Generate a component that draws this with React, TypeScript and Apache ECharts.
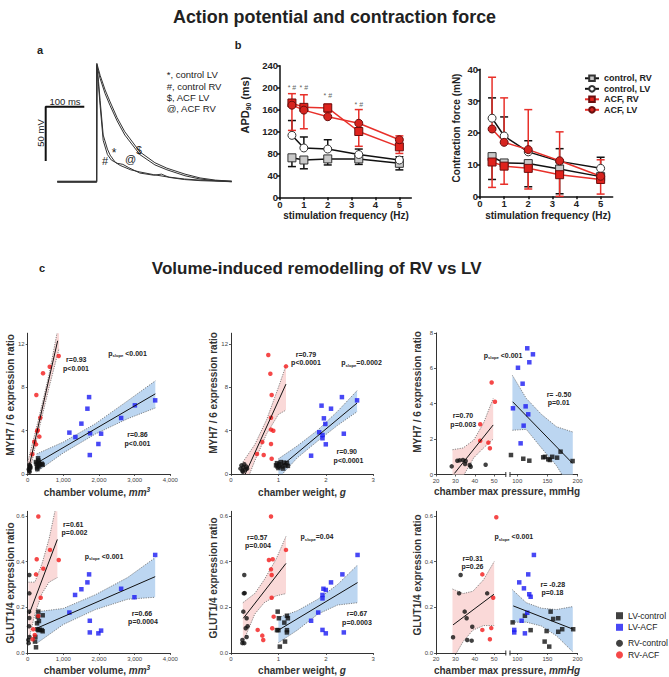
import React, { useEffect, useRef } from "react";
import * as echarts from "echarts";

const FONT = "'Liberation Sans', Arial, Helvetica, sans-serif";

// ---------- Panel a: action potentials (time ms, potential mV) ----------
const apAcfLV = [[30,-80],[132,-80],[132.5,29],[141,18],[154,4.5],[167,-6.5],[185,-21],[205,-34],[244,-52.5],[283,-62.5],[314,-67.5],[361,-73],[400,-76.5],[440,-78.5],[482,-79.5]];
const apAcfRV = [[30,-80.5],[132,-80.5],[132.5,27],[141,15],[154,1],[167,-10],[185,-24],[205,-37],[244,-55],[283,-64.5],[314,-69],[361,-74.5],[400,-77.5],[440,-79],[482,-80]];
const apCtrlLV = [[30,-79.5],[132,-79.5],[132.5,28],[137,12],[141,-5],[149,-37],[160,-50],[167,-55.5],[180,-62],[193,-65],[220,-69],[244,-71],[280,-73.5],[314,-75.5],[360,-77.5],[400,-78.5],[482,-79.5]];
const apCtrlRV = [[30,-80],[132,-80],[132.5,26],[137,8],[141,-10],[149,-42],[160,-55],[170,-60],[185,-63],[200,-64],[215,-67],[244,-72],[280,-74],[300,-73],[320,-76],[360,-78],[400,-79],[482,-80]];
const scaleBar = [[100,-11],[0,-11],[0,-61]];

// ---------- Panel b ----------
const freqHz = [0.5, 1, 2, 3.3, 5];
const freqTicks = [0, 1, 2, 3, 4, 5];
const apdTicks = [0, 40, 80, 120, 160, 200, 240];
const forceTicks = [0, 10, 20, 30, 40];

const apdCtrlRV = [72, 68, 70, 70, 62];
const apdCtrlRVErr = [56, 52, 59, 60, 50];
const apdCtrlLV = [113, 90, 88, 78, 68];
const apdCtrlLVErr = [140, 110, 105, 88, 74];
const apdAcfRV = [172, 164, 163, 120, 92];
const apdAcfRVErr = [122, 125, 155, 93, 80];
const apdAcfLV = [168, 159, 147, 135, 105];
const apdAcfLVErr = [189, 187, 170, 160, 112];
const apdSigMarks = [[0.5, 201], [1, 201], [2, 185], [3.3, 170]];

const forceCtrlRV = [12.5, 10.5, 10.3, 8.6, 6.2];
const forceCtrlRVErr = [5.3, 10.5, 3.0, 0.8, 6.2];
const forceCtrlLV = [24.6, 19, 14, 11, 8.8];
const forceCtrlLVErr = [31, 25, 17.5, 15, 12.3];
const forceAcfRV = [10.8, 9.5, 8.8, 6.8, 5.3];
const forceAcfRVErr = [2.8, 3.8, 2.3, 0, 0.7];
const forceAcfLV = [21.2, 17, 14.7, 11.2, 6.3];
const forceAcfLVErr = [37.5, 31, 27.3, 20.3, 11.5];

// ---------- Panel c ticks ----------
const volTicks = [0, 1000, 2000, 3000, 4000];
const wTicks = [0, 1, 2, 3];
const pLeftTicks = [20, 30, 40, 50];
const pRightTicks = [100, 150, 200];
const myhTicks = [0, 4, 8, 12];
const myhPTicks = [0, 2, 4, 6, 8];
const glutTicks = [0, 0.2, 0.4, 0.6];

// c1: chamber volume vs MYH7/6
const c1LvCtrl = [[230,1.1],[250,0.95],[262,0.6],[280,0.8],[290,1.45],[300,1.25],[320,0.7],[345,0.9],[395,0.95],[420,0.85],[270,0.45],[310,1.05]];
const c1LvAcf = [[1169,3.82],[1338,3.41],[1506,4.65],[1675,6.03],[1722,7.1],[1750,3.76],[2059,3.72],[2621,5.17],[3006,6.34],[3576,6.8],[1742,1.75],[1983,2.77]];
const c1RvCtrl = [[30,0.45],[40,0.3],[45,0.85],[50,0.6],[55,0.2],[62,0.75],[70,0.5],[80,0.65]];
const c1RvAcf = [[242,7.3],[430,9.3],[618,9.9],[870,10.9],[354,5.2],[281,4.05],[265,3.95],[327,3.45],[186,2.98],[233,2.74],[130,1.82]];
const c1RvLine = [[17,0.37],[840,12.3]];
const c1RvBand = [[0,-0.7,1.1],[300,3.9,5.0],[600,8.0,9.2],[880,11.6,14.0]];
const c1LvLine = [[250,1.0],[3580,7.4]];
const c1LvBand = [[250,0.2,1.85],[1000,1.95,2.95],[1900,3.7,4.65],[2800,5.1,6.75],[3580,6.1,8.6]];

// c2: chamber weight vs MYH7/6
const c2LvCtrl = [[0.95,0.8],[0.97,1.0],[1.0,0.55],[1.02,0.9],[1.05,1.1],[1.08,0.7],[1.12,1.05],[1.15,0.8],[1.18,1.0],[1.2,0.75],[1.1,0.5],[0.98,0.7]];
const c2LvAcf = [[1.91,6.31],[2.11,6.03],[2.34,7.1],[2.66,6.8],[1.96,5.14],[1.99,4.62],[2.38,3.72],[1.86,3.85],[1.93,3.6],[1.93,3.3],[2.0,2.74],[1.69,1.69]];
const c2RvCtrl = [[0.2,0.5],[0.22,0.8],[0.24,0.3],[0.26,0.6],[0.28,0.9],[0.3,0.4],[0.32,0.7],[0.25,0.2],[0.34,0.5]];
const c2RvAcf = [[0.787,10.99],[0.83,9.26],[0.858,7.29],[0.844,5.2],[0.844,4.1],[0.893,4.0],[1.16,9.94],[0.66,2.95],[0.844,2.77],[0.549,1.85],[0.69,1.75],[0.858,1.41]];
const c2RvLine = [[0.3,0.0],[1.16,8.3]];
const c2RvBand = [[0.25,-1.6,1.1],[0.5,1.2,2.7],[0.75,3.7,5.0],[1.0,5.5,8.0],[1.16,5.9,10.0]];
const c2LvLine = [[1.0,0.5],[2.66,6.55]];
const c2LvBand = [[1.0,-0.4,1.4],[1.4,1.5,2.6],[1.83,3.05,4.05],[2.25,4.5,5.8],[2.66,5.75,7.7]];

// c3: chamber max pressure vs MYH7/6
const c3LvCtrl = [[89.6,1.1],[110,0.89],[120,0.78],[143,0.97],[145.9,1.0],[151.4,0.86],[154,0.82],[157.9,1.0],[166,0.95],[171.8,1.29],[191.7,0.76]];
const c3LvAcf = [[116.6,7.13],[126,6.79],[120,6.34],[101.2,6.03],[108.9,5.13],[92.9,3.74],[113.9,3.85],[118.2,3.4],[110.6,2.76],[105.6,1.76]];
const c3RvCtrl = [[28.1,0.46],[31,0.78],[32.2,0.8],[33.9,0.82],[35.3,0.76],[35,0.59],[37.4,0.54],[37.9,0.44],[45.6,0.55]];
const c3RvAcf = [[48.7,5.2],[50.4,4.11],[42.8,2.84],[42.8,1.91],[47,1.8],[47.8,1.48]];
const c3RvLine = [[29.5,0.06],[49.5,2.8]];
const c3RvBand = [[28.5,-1.4,1.4],[34,-0.1,1.5],[39.5,0.95,1.95],[44.5,1.5,2.9],[49.5,2.0,4.3]];
const c3LvLine = [[92.4,4.11],[191.7,0.63]];
const c3LvBand = [[92,2.5,5.6],[115,2.55,4.3],[140,1.5,3.4],[165,0.5,2.7],[192,-1.0,2.4]];

// c4: chamber volume vs GLUT1/4
const c4LvCtrl = [[298,0.181],[280,0.159],[262,0.13],[315,0.14],[420,0.165],[270,0.104],[298,0.1],[340,0.102],[393,0.1],[420,0.095],[214,0.07],[205,0.05],[233,0.025]];
const c4LvAcf = [[1169,0.177],[1329,0.254],[1506,0.279],[1675,0.309],[1722,0.344],[1742,0.141],[1742,0.09],[1983,0.086],[2059,0.098],[2621,0.281],[2994,0.244],[3576,0.429]];
const c4RvCtrl = [[46,0.341],[46,0.261],[40,0.181],[46,0.153],[38,0.117],[17,0.057],[25,0.043],[50,0.07]];
const c4RvAcf = [[298,0.597],[253,0.41],[233,0.344],[438,0.369],[626,0.451],[871,0.407],[365,0.242],[298,0.162],[157,0.104],[197,0.079],[140,0.06]];
const c4RvLine = [[40,0.17],[832,0.497]];
const c4RvBand = [[20,0.05,0.31],[200,0.17,0.31],[400,0.26,0.39],[600,0.31,0.5],[832,0.33,0.67]];
const c4LvLine = [[250,0.108],[3576,0.334]];
const c4LvBand = [[250,0.042,0.18],[1000,0.125,0.195],[1900,0.19,0.255],[2800,0.235,0.33],[3576,0.244,0.417]];

// c5: chamber weight vs GLUT1/4
const c5LvCtrl = [[0.985,0.181],[1.01,0.152],[1.0,0.1],[0.97,0.1],[1.125,0.133],[1.18,0.163],[1.2,0.152],[1.18,0.1],[1.18,0.09],[1.14,0.05],[1.03,0.028]];
const c5LvAcf = [[1.69,0.141],[1.84,0.177],[1.93,0.239],[1.93,0.254],[1.95,0.281],[2.0,0.276],[2.11,0.309],[2.35,0.344],[2.67,0.429],[1.93,0.101],[2.0,0.086],[2.38,0.09]];
const c5RvCtrl = [[0.28,0.341],[0.27,0.261],[0.29,0.262],[0.26,0.181],[0.33,0.152],[0.31,0.108],[0.35,0.117],[0.24,0.057],[0.28,0.043],[0.24,0.043],[0.33,0.07]];
const c5RvAcf = [[0.844,0.597],[0.8,0.407],[0.88,0.41],[0.844,0.366],[0.858,0.341],[1.16,0.451],[0.858,0.242],[0.9,0.159],[0.563,0.101],[0.66,0.076],[0.68,0.057],[0.87,0.108]];
const c5RvLine = [[0.26,0.152],[1.16,0.392]];
const c5RvBand = [[0.25,0.045,0.22],[0.5,0.17,0.26],[0.7,0.22,0.32],[0.95,0.25,0.41],[1.16,0.26,0.51]];
const c5LvLine = [[1.0,0.1],[2.67,0.308]];
const c5LvBand = [[1.0,0.045,0.155],[1.4,0.1,0.185],[1.83,0.17,0.235],[2.25,0.21,0.3],[2.67,0.22,0.385]];

// c6: chamber max pressure vs GLUT1/4
const c6LvCtrl = [[92.4,0.134],[112.7,0.163],[122.2,0.1],[148.7,0.096],[155.3,0.181],[159.6,0.149],[167.9,0.152],[167.9,0.093],[174.5,0.104],[192.7,0.104],[145.4,0.05],[153,0.028]];
const c6LvAcf = [[127.6,0.429],[118.2,0.344],[103.3,0.309],[111.1,0.283],[119.9,0.257],[122.2,0.246],[116.6,0.176],[107.3,0.141],[95,0.101],[95,0.09],[112.7,0.086]];
const c6RvCtrl = [[32.7,0.341],[31.9,0.261],[46.4,0.261],[34.8,0.181],[35.8,0.152],[38.7,0.115],[28.8,0.069],[36.1,0.057],[38.4,0.054]];
const c6RvAcf = [[51.1,0.594],[43.9,0.344],[49.5,0.242],[43.9,0.101],[48.5,0.109],[47.8,0.06]];
const c6RvLine = [[28.8,0.123],[49.9,0.257]];
const c6RvBand = [[28.5,-0.03,0.28],[34,0.05,0.26],[39,0.1,0.27],[44.5,0.12,0.32],[50,0.12,0.4]];
const c6LvLine = [[93.4,0.206],[192.7,0.104]];
const c6LvBand = [[92,0.135,0.277],[115,0.135,0.22],[140,0.118,0.196],[165,0.075,0.19],[192,0.005,0.203]];

// ---------- helpers ----------
const RED = "#f21a1a";
const BLUE = "#1a1af2";
const BLACK = "#111111";
const PINK_BAND = "#fad9d8";
const BLUE_BAND = "#bcd6f1";
const STAT = 7;

function cAxis(gridIndex: number, min: number, max: number, ticks: number[] | null, fmt?: any) {
  const show = !!ticks;
  return {
    type: "value", gridIndex, min, max,
    splitLine: { show: false },
    axisLine: { show, onZero: false, lineStyle: { color: "#333", width: 1 } },
    axisTick: { show, length: 2, customValues: ticks || [], lineStyle: { color: "#333", width: 0.8 } },
    axisLabel: { show, customValues: ticks || [], fontSize: 6, color: "#444", margin: 3, fontFamily: FONT, formatter: fmt },
  };
}
function bAxis(gridIndex: number, min: number, max: number, ticks: number[]) {
  return {
    type: "value", gridIndex, min, max,
    splitLine: { show: false },
    axisLine: { show: true, onZero: false, lineStyle: { color: "#111", width: 1.5 } },
    axisTick: { show: true, length: 3, customValues: ticks, lineStyle: { color: "#111", width: 1.5 } },
    axisLabel: { customValues: ticks, fontSize: 9.5, fontWeight: "bold", color: "#222", margin: 2, fontFamily: FONT },
  };
}
function pts(name: string, data: number[][], xi: number, yi: number, symbol: string, color: string) {
  return { type: "scatter", name, data, xAxisIndex: xi, yAxisIndex: yi, symbol, symbolSize: 4.5, itemStyle: { color }, z: 3, silent: true };
}
function regLine(data: number[][], xi: number, yi: number) {
  return { type: "line", data, xAxisIndex: xi, yAxisIndex: yi, symbol: "none", lineStyle: { color: "#111", width: 1 }, z: 4, silent: true };
}
function band(b: number[][], xi: number, yi: number, fill: string) {
  const mid = b[Math.floor(b.length / 2)];
  return {
    type: "custom", xAxisIndex: xi, yAxisIndex: yi, clip: true, silent: true, z: 1,
    data: [[mid[0], (mid[1] + mid[2]) / 2]],
    renderItem: (_p: any, api: any) => {
      const up = b.map((d) => api.coord([d[0], d[2]]));
      const lo = b.map((d) => api.coord([d[0], d[1]]));
      const poly = up.concat(lo.slice().reverse());
      const dash = { stroke: "#666", lineWidth: 0.8, lineDash: [1.2, 1.2], fill: null };
      return {
        type: "group",
        children: [
          { type: "polygon", shape: { points: poly }, style: { fill } },
          { type: "polyline", shape: { points: up }, style: dash },
          { type: "polyline", shape: { points: lo }, style: dash },
        ],
      };
    },
  };
}
function bLine(name: string, mean: number[], xi: number, symbol: string, fill: string, border: string, line: string) {
  return {
    type: "line", name, xAxisIndex: xi, yAxisIndex: xi, data: freqHz.map((f, i) => [f, mean[i]]),
    symbol, symbolSize: 8, itemStyle: { color: fill, borderColor: border, borderWidth: 1 },
    lineStyle: { color: line, width: 1.5 }, z: 3, silent: true,
  };
}
function errBars(mean: number[], end: number[], xi: number, color: string) {
  return {
    type: "custom", xAxisIndex: xi, yAxisIndex: xi, silent: true, z: 2,
    data: freqHz.map((f, i) => [f, mean[i], end[i]]),
    renderItem: (_p: any, api: any) => {
      const x = api.value(0);
      const p1 = api.coord([x, api.value(1)]);
      const p2 = api.coord([x, api.value(2)]);
      const st = { stroke: color, lineWidth: 1.5 };
      return {
        type: "group",
        children: [
          { type: "line", shape: { x1: p1[0], y1: p1[1], x2: p2[0], y2: p2[1] }, style: st },
          { type: "line", shape: { x1: p2[0] - 4, y1: p2[1], x2: p2[0] + 4, y2: p2[1] }, style: st },
        ],
      };
    },
  };
}
function txt(x: number, y: number, text: string, size: number, o: any = {}) {
  const align = o.align || "center";
  return {
    type: "text", x, y, rotation: o.rot || 0, silent: true, z: 10,
    style: {
      text, fill: o.color || "#222", fontSize: size, fontWeight: o.weight || "bold", fontFamily: FONT,
      fontStyle: o.italic ? "italic" : "normal",
      textAlign: align, textVerticalAlign: "middle", align, verticalAlign: "middle", rich: o.rich,
    },
  };
}
function richStyles(size: number, color = "#222") {
  return {
    n: { fontSize: size, fontWeight: "bold", fontFamily: FONT, fill: color, color, lineHeight: size + 2 },
    i: { fontSize: size, fontWeight: "bold", fontStyle: "italic", fontFamily: FONT, fill: color, color, lineHeight: size + 2 },
    sub: { fontSize: size * 0.6, fontWeight: "bold", fontFamily: FONT, fill: color, color, verticalAlign: "bottom", lineHeight: size * 0.6 },
    sup: { fontSize: size * 0.65, fontWeight: "bold", fontStyle: "italic", fontFamily: FONT, fill: color, color, verticalAlign: "top", lineHeight: size * 0.65 },
  };
}
const stat = (x: number, y: number, text: string) => txt(x, y, text, STAT);
const pslope = (x: number, y: number, rest: string) => txt(x, y, "{n|p}{sub|slope}{n|" + rest + "}", STAT, { rich: richStyles(STAT) });

function buildOption() {
  const grid = [
    { left: 45.7, top: 60.1, width: 189.1, height: 132.5 },
    { left: 280, top: 65.7, width: 131.3, height: 131.6 },
    { left: 480, top: 69.3, width: 132.7, height: 127 },
    { left: 27.7, top: 333.2, width: 142.6, height: 140.8 },
    { left: 231, top: 333.2, width: 142.2, height: 140.8 },
    { left: 436, top: 332.9, width: 69.8, height: 141.6 },
    { left: 510, top: 332.9, width: 67.6, height: 141.6 },
    { left: 27.7, top: 511.3, width: 142.6, height: 141.7 },
    { left: 231, top: 511.3, width: 142.2, height: 141.7 },
    { left: 436, top: 511.3, width: 69.8, height: 141.7 },
    { left: 510, top: 511.3, width: 67.6, height: 141.7 },
  ];
  const g1 = (v: number) => v.toFixed(1);
  const xAxis = [
    { type: "value", gridIndex: 0, min: 0, max: 490, show: false },
    bAxis(1, 0, 5.5, freqTicks),
    bAxis(2, 0, 5.5, freqTicks),
    cAxis(3, 0, 4000, volTicks),
    cAxis(4, 0, 3, wTicks),
    cAxis(5, 20, 56, pLeftTicks),
    cAxis(6, 88, 200, pRightTicks),
    cAxis(7, 0, 4000, volTicks),
    cAxis(8, 0, 3, wTicks),
    cAxis(9, 20, 56, pLeftTicks),
    cAxis(10, 88, 200, pRightTicks),
  ];
  const yAxis = [
    { type: "value", gridIndex: 0, min: -90, max: 32, show: false },
    bAxis(1, 0, 240, apdTicks),
    bAxis(2, 0, 40, forceTicks),
    cAxis(3, 0, 13, myhTicks),
    cAxis(4, 0, 13, myhTicks),
    cAxis(5, 0, 8, myhPTicks),
    cAxis(6, 0, 8, null),
    cAxis(7, 0, 0.62, glutTicks, g1),
    cAxis(8, 0, 0.62, glutTicks, g1),
    cAxis(9, 0, 0.62, glutTicks, g1),
    cAxis(10, 0, 0.62, null),
  ];

  const trace = (data: number[][]) => ({ type: "line", xAxisIndex: 0, yAxisIndex: 0, data, symbol: "none", lineStyle: { color: "#333", width: 1 }, silent: true });

  const series: any[] = [
    trace(apAcfLV), trace(apAcfRV), trace(apCtrlLV), trace(apCtrlRV),
    { type: "line", xAxisIndex: 0, yAxisIndex: 0, data: scaleBar, symbol: "none", lineStyle: { color: "#111", width: 2 }, silent: true },
    // panel b left
    errBars(apdCtrlRV, apdCtrlRVErr, 1, "#111"),
    errBars(apdCtrlLV, apdCtrlLVErr, 1, "#111"),
    errBars(apdAcfRV, apdAcfRVErr, 1, "#e8302a"),
    errBars(apdAcfLV, apdAcfLVErr, 1, "#e8302a"),
    bLine("control, RV", apdCtrlRV, 1, "rect", "#c9c9c9", "#333", "#111"),
    bLine("control, LV", apdCtrlLV, 1, "circle", "#ffffff", "#333", "#111"),
    bLine("ACF, RV", apdAcfRV, 1, "rect", "#e0221c", "#6a0f0f", "#e8302a"),
    bLine("ACF, LV", apdAcfLV, 1, "circle", "#d6241f", "#6a0f0f", "#e8302a"),
    {
      type: "scatter", xAxisIndex: 1, yAxisIndex: 1, data: apdSigMarks, symbolSize: 1, itemStyle: { color: "rgba(0,0,0,0)" }, silent: true,
      label: { show: true, position: "inside", formatter: "* #", fontSize: 7, color: "#333", fontFamily: FONT },
    },
    // panel b right
    errBars(forceCtrlRV, forceCtrlRVErr, 2, "#111"),
    errBars(forceCtrlLV, forceCtrlLVErr, 2, "#111"),
    errBars(forceAcfRV, forceAcfRVErr, 2, "#e8302a"),
    errBars(forceAcfLV, forceAcfLVErr, 2, "#e8302a"),
    bLine("control, RV", forceCtrlRV, 2, "rect", "#c9c9c9", "#333", "#111"),
    bLine("control, LV", forceCtrlLV, 2, "circle", "#ffffff", "#333", "#111"),
    bLine("ACF, RV", forceAcfRV, 2, "rect", "#e0221c", "#6a0f0f", "#e8302a"),
    bLine("ACF, LV", forceAcfLV, 2, "circle", "#d6241f", "#6a0f0f", "#e8302a"),
  ];

  const plot = (lvC: number[][], lvA: number[][], rvC: number[][], rvA: number[][], rvLine: number[][], rvBand: number[][], lvLine: number[][], lvBand: number[][], rvG: number, lvG: number) => {
    series.push(
      band(rvBand, rvG, rvG, PINK_BAND),
      band(lvBand, lvG, lvG, BLUE_BAND),
      pts("LV-control", lvC, lvG, lvG, "rect", BLACK),
      pts("LV-ACF", lvA, lvG, lvG, "rect", BLUE),
      pts("RV-control", rvC, rvG, rvG, "circle", BLACK),
      pts("RV-ACF", rvA, rvG, rvG, "circle", RED),
      regLine(rvLine, rvG, rvG),
      regLine(lvLine, lvG, lvG),
    );
  };
  plot(c1LvCtrl, c1LvAcf, c1RvCtrl, c1RvAcf, c1RvLine, c1RvBand, c1LvLine, c1LvBand, 3, 3);
  plot(c2LvCtrl, c2LvAcf, c2RvCtrl, c2RvAcf, c2RvLine, c2RvBand, c2LvLine, c2LvBand, 4, 4);
  plot(c3LvCtrl, c3LvAcf, c3RvCtrl, c3RvAcf, c3RvLine, c3RvBand, c3LvLine, c3LvBand, 5, 6);
  plot(c4LvCtrl, c4LvAcf, c4RvCtrl, c4RvAcf, c4RvLine, c4RvBand, c4LvLine, c4LvBand, 7, 7);
  plot(c5LvCtrl, c5LvAcf, c5RvCtrl, c5RvAcf, c5RvLine, c5RvBand, c5LvLine, c5LvBand, 8, 8);
  plot(c6LvCtrl, c6LvAcf, c6RvCtrl, c6RvAcf, c6RvLine, c6RvBand, c6LvLine, c6LvBand, 9, 10);

  const R = Math.PI / 2;
  const r10 = richStyles(10, "#333");
  const graphic: any[] = [
    txt(334.5, 17, "Action potential and contraction force", 17.9),
    txt(316.7, 268.3, "Volume-induced remodelling of RV vs LV", 17),
    txt(40, 50, "a", 11),
    txt(238, 45, "b", 11),
    txt(42, 268, "c", 11),
    // panel a
    txt(65, 101, "100 ms", 9.5, { weight: "normal" }),
    txt(40, 133, "50 mV", 9.5, { weight: "normal", rot: R }),
    txt(166.7, 74, "*, control LV", 9.5, { weight: "normal", align: "left" }),
    txt(166.7, 86, "#, control RV", 9.5, { weight: "normal", align: "left" }),
    txt(166.7, 97.7, "$, ACF LV", 9.5, { weight: "normal", align: "left" }),
    txt(166.7, 108.3, "@, ACF RV", 9.5, { weight: "normal", align: "left" }),
    txt(105, 161, "#", 11, { weight: "normal" }),
    txt(114, 153, "*", 12, { weight: "normal" }),
    txt(130.7, 159, "@", 11, { weight: "normal" }),
    txt(139, 150, "$", 10, { weight: "normal" }),
    // panel b
    txt(245, 105, "{n|APD}{sub|90}{n| (ms)}", 11, { rot: R, rich: richStyles(11) }),
    txt(456.7, 128, "Contraction force (mN)", 10, { rot: R }),
    txt(346, 215.5, "stimulation frequency (Hz)", 10),
    txt(548, 215.5, "stimulation frequency (Hz)", 10),
    // panel c axis titles
    txt(10, 395, "MYH7 / 6 expression ratio", 10, { rot: R, color: "#333" }),
    txt(213, 393, "MYH7 / 6 expression ratio", 10, { rot: R, color: "#333" }),
    txt(417, 392, "MYH7 / 6 expression ratio", 10, { rot: R, color: "#333" }),
    txt(10, 583, "GLUT1/4 expression ratio", 10, { rot: R, color: "#333" }),
    txt(213, 578, "GLUT1/4 expression ratio", 10, { rot: R, color: "#333" }),
    txt(417, 575, "GLUT1/4 expression ratio", 10, { rot: R, color: "#333" }),
    txt(97, 492, "{n|chamber volume, }{i|mm}{sup|3}", 10, { rich: richStyles(10, "#333") }),
    txt(302, 492, "{n|chamber weight, }{i|g}", 10, { rich: richStyles(10, "#333") }),
    txt(507, 491, "chamber max pressure, mmHg", 10, { color: "#333" }),
    txt(97, 670, "{n|chamber volume, }{i|mm}{sup|3}", 10, { rich: richStyles(10, "#333") }),
    txt(302, 670, "{n|chamber weight, }{i|g}", 10, { rich: richStyles(10, "#333") }),
    txt(507, 670, "{n|chamber max pressure, }{i|mmHg}", 10, { rich: r10 }),
    // c1
    stat(76.3, 359.5, "r=0.93"), stat(76, 368.7, "p<0.001"),
    pslope(127.5, 353.3, " <0.001"),
    stat(137.5, 434, "r=0.86"), stat(137.5, 443.3, "p<0.001"),
    // c2
    stat(306, 354, "r=0.79"), stat(306, 362.5, "p<0.0001"),
    pslope(361.5, 362.7, "=0.0002"),
    stat(346.7, 451.5, "r=0.90"), stat(348.5, 460, "p<0.0001"),
    // c3
    pslope(503, 355, " <0.001"),
    stat(463, 415.8, "r=0.70"), stat(463.3, 424.3, "p=0.003"),
    stat(559, 394, "r= -0.50"), stat(558.7, 402.3, "p=0.01"),
    // c4
    stat(73.3, 524, "r=0.61"), stat(74.5, 532.3, "p=0.002"),
    pslope(104, 556, " <0.001"),
    stat(142, 613.3, "r=0.66"), stat(143, 621.7, "p=0.0004"),
    // c5
    stat(257.3, 537, "r=0.57"), stat(258, 545.3, "p=0.004"),
    pslope(317, 536.7, "=0.04"),
    stat(357, 613.3, "r=0.67"), stat(357, 622, "p=0.0003"),
    // c6
    pslope(513.8, 536.7, " <0.001"),
    stat(472.7, 558, "r=0.31"), stat(472.5, 566.3, "p=0.26"),
    stat(552.8, 584, "r= -0.28"), stat(552.5, 592.3, "p=0.18"),
    // axis break marks
    { type: "line", shape: { x1: 505.8, y1: 472, x2: 505.8, y2: 477 }, style: { stroke: "#333", lineWidth: 1 }, silent: true },
    { type: "line", shape: { x1: 510, y1: 472, x2: 510, y2: 477 }, style: { stroke: "#333", lineWidth: 1 }, silent: true },
    { type: "line", shape: { x1: 505.8, y1: 650.5, x2: 505.8, y2: 655.5 }, style: { stroke: "#333", lineWidth: 1 }, silent: true },
    { type: "line", shape: { x1: 510, y1: 650.5, x2: 510, y2: 655.5 }, style: { stroke: "#333", lineWidth: 1 }, silent: true },
  ];

  const legend = [
    {
      data: ["control, RV", "control, LV", "ACF, RV", "ACF, LV"], orient: "vertical", left: 579, top: 68.3,
      itemWidth: 14, itemHeight: 7, itemGap: 0.5, selectedMode: false,
      textStyle: { fontSize: 9, fontWeight: "bold", color: "#222", lineHeight: 10, fontFamily: FONT },
    },
    {
      data: [{ name: "LV-control", icon: "rect" }, { name: "LV-ACF", icon: "rect" }], orient: "vertical", left: 611, top: 605.2,
      itemWidth: 7, itemHeight: 7, itemGap: 0.6, selectedMode: false,
      textStyle: { fontSize: 8.6, color: "#222", lineHeight: 11, fontFamily: FONT },
    },
    {
      data: [{ name: "RV-control", icon: "circle" }, { name: "RV-ACF", icon: "circle" }], orient: "vertical", left: 611, top: 632.8,
      itemWidth: 7, itemHeight: 7, itemGap: 0.6, selectedMode: false,
      textStyle: { fontSize: 8.6, color: "#222", lineHeight: 11, fontFamily: FONT },
    },
  ];

  return { animation: false, backgroundColor: "#ffffff", textStyle: { fontFamily: FONT }, grid, xAxis, yAxis, series, graphic, legend };
}

export default function App() {
  const ref = useRef<HTMLDivElement>(null);
  useEffect(() => {
    if (!ref.current) return;
    document.body.style.margin = "0";
    const chart = echarts.init(ref.current, undefined, { renderer: "svg" });
    chart.setOption(buildOption() as any);
    return () => chart.dispose();
  }, []);
  return <div ref={ref} style={{ position: "absolute", left: 0, top: 0, width: 669, height: 677, background: "#fff" }} />;
}
